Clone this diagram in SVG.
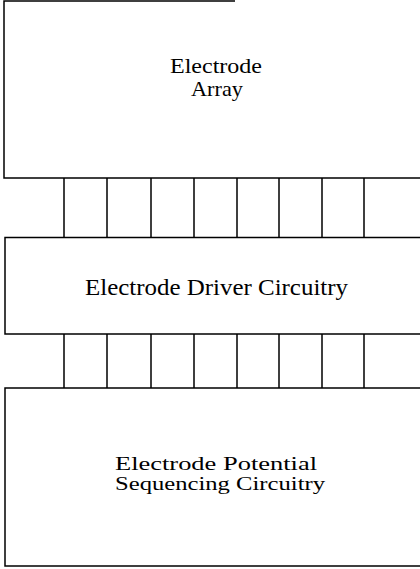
<svg xmlns="http://www.w3.org/2000/svg" width="420" height="569" viewBox="0 0 420 569">
<style>
.box{fill:none;stroke:#000;stroke-width:1.5}
.wire{stroke:#000;stroke-width:1.5}
text{font-family:"Liberation Serif","Times New Roman",serif;fill:#000}
</style>
<rect width="420" height="569" fill="#fff"/>
<g id="electrode-array">
<path class="box" d="M235,1 H4 V178 H422"/>
<text x="216" y="73" font-size="22" text-anchor="middle" textLength="92" lengthAdjust="spacingAndGlyphs">Electrode</text>
<text x="217" y="96" font-size="22" text-anchor="middle" textLength="52" lengthAdjust="spacingAndGlyphs">Array</text>
</g>
<g id="electrode-driver">
<path class="box" d="M422,237.5 H5 V334 H422"/>
<text x="85" y="295" font-size="23" textLength="263" lengthAdjust="spacingAndGlyphs">Electrode Driver Circuitry</text>
</g>
<g id="sequencing">
<path class="box" d="M422,388 H5 V566 H422"/>
<text x="115" y="470" font-size="18" textLength="202" lengthAdjust="spacingAndGlyphs">Electrode Potential</text>
<text x="115" y="490" font-size="18" textLength="210" lengthAdjust="spacingAndGlyphs">Sequencing Circuitry</text>
</g>
<g id="connectors">
<path class="wire" d="M64,178V237.5M107,178V237.5M151,178V237.5M194,178V237.5M237,178V237.5M279,178V237.5M322,178V237.5M364,178V237.5"/>
<path class="wire" d="M64,334V388M107,334V388M151,334V388M194,334V388M237,334V388M279,334V388M322,334V388M364,334V388"/>
</g>
</svg>
